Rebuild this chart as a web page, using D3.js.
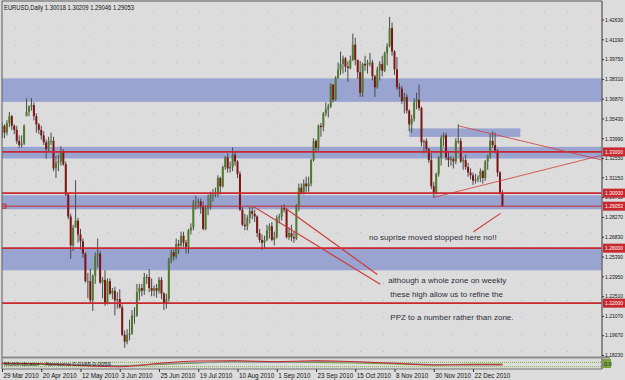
<!DOCTYPE html>
<html>
<head>
<meta charset="utf-8">
<script src="https://cdn.jsdelivr.net/npm/d3@7"></script>
<style>
  body { margin: 0; background: #dcdcdc; }
  svg text { font-family: "Liberation Sans", Arial, sans-serif; }
</style>
</head>
<body>
<svg id="chart" width="625" height="380"></svg>
<script>
// EURUSD daily bars, 29 Mar 2010 .. 7 Jan 2011
var dateTicks = ["29 Mar 2010", "20 Apr 2010", "12 May 2010", "3 Jun 2010", "25 Jun 2010",
  "19 Jul 2010", "10 Aug 2010", "1 Sep 2010", "23 Sep 2010", "15 Oct 2010",
  "8 Nov 2010", "30 Nov 2010", "22 Dec 2010"];

var opens = [
  1.3410, 1.3490, 1.3440, 1.3510, 1.3560, 1.3490, 1.3460, 1.3380, 1.3350, 1.3360,
  1.3560, 1.3590, 1.3630, 1.3640, 1.3560, 1.3500, 1.3460, 1.3420, 1.3370, 1.3320,
  1.3380, 1.3380, 1.3180, 1.3220, 1.3230, 1.3300, 1.3210, 1.2990, 1.2830, 1.2620,
  1.2750, 1.2800, 1.2700, 1.2650, 1.2560, 1.2360, 1.2360, 1.2220, 1.2400, 1.2540,
  1.2560, 1.2350, 1.2370, 1.2200, 1.2360, 1.2270, 1.2290, 1.2220, 1.2230, 1.2170,
  1.1970, 1.1920, 1.1970, 1.1980, 1.2110, 1.2110, 1.2280, 1.2310, 1.2290, 1.2390,
  1.2390, 1.2310, 1.2290, 1.2310, 1.2290, 1.2370, 1.2270, 1.2200, 1.2230, 1.2510,
  1.2570, 1.2540, 1.2630, 1.2620, 1.2690, 1.2640, 1.2610, 1.2730, 1.2750, 1.2930,
  1.2940, 1.2940, 1.2900, 1.2740, 1.2890, 1.2910, 1.2990, 1.2990, 1.2990, 1.3110,
  1.3050, 1.3190, 1.3260, 1.3180, 1.3190, 1.3280, 1.3230, 1.3140, 1.2880, 1.2770,
  1.2760, 1.2820, 1.2870, 1.2850, 1.2830, 1.2710, 1.2660, 1.2640, 1.2660, 1.2730,
  1.2760, 1.2660, 1.2680, 1.2820, 1.2830, 1.2890, 1.2880, 1.2680, 1.2710, 1.2680,
  1.2670, 1.2910, 1.3040, 1.3000, 1.3070, 1.3050, 1.3070, 1.3240, 1.3380, 1.3330,
  1.3490, 1.3480, 1.3580, 1.3610, 1.3630, 1.3790, 1.3680, 1.3840, 1.3900, 1.3940,
  1.3980, 1.3920, 1.3910, 1.3970, 1.4080, 1.3970, 1.3880, 1.3730, 1.3940, 1.3930,
  1.3950, 1.3950, 1.3850, 1.3770, 1.3900, 1.3940, 1.3890, 1.4020, 1.4070, 1.4200,
  1.4030, 1.3900, 1.3770, 1.3760, 1.3670, 1.3700, 1.3600, 1.3500, 1.3540, 1.3660,
  1.3680, 1.3620, 1.3370, 1.3380, 1.3320, 1.3240, 1.3050, 1.3000, 1.3140, 1.3260,
  1.3400, 1.3420, 1.3260, 1.3240, 1.3250, 1.3230, 1.3380, 1.3380, 1.3230, 1.3240,
  1.3190, 1.3150, 1.3130, 1.3090, 1.3100, 1.3110, 1.3160, 1.3110, 1.3230, 1.3270,
  1.3380, 1.3350, 1.3310, 1.3150, 1.30018
];
var highs = [
  1.3520, 1.3500, 1.3530, 1.3590, 1.3570, 1.3500, 1.3490, 1.3420, 1.3420, 1.3500,
  1.3690, 1.3640, 1.3691, 1.3660, 1.3580, 1.3510, 1.3490, 1.3450, 1.3390, 1.3410,
  1.3440, 1.3410, 1.3270, 1.3280, 1.3340, 1.3320, 1.3230, 1.3000, 1.2850, 1.2770,
  1.3094, 1.2820, 1.2740, 1.2670, 1.2570, 1.2420, 1.2450, 1.2410, 1.2570, 1.2670,
  1.2580, 1.2390, 1.2440, 1.2380, 1.2380, 1.2310, 1.2320, 1.2280, 1.2300, 1.2190,
  1.2000, 1.2010, 1.2080, 1.2150, 1.2170, 1.2340, 1.2340, 1.2340, 1.2420, 1.2410,
  1.2447, 1.2380, 1.2330, 1.2340, 1.2390, 1.2390, 1.2280, 1.2270, 1.2530, 1.2590,
  1.2590, 1.2670, 1.2660, 1.2720, 1.2720, 1.2660, 1.2740, 1.2780, 1.2950, 1.2980,
  1.2960, 1.2960, 1.2940, 1.2910, 1.2990, 1.3010, 1.3030, 1.3040, 1.3130, 1.3120,
  1.3200, 1.3270, 1.3290, 1.3230, 1.3333, 1.3300, 1.3240, 1.3160, 1.2900, 1.2850,
  1.2840, 1.2900, 1.2900, 1.2880, 1.2840, 1.2740, 1.2700, 1.2690, 1.2770, 1.2780,
  1.2790, 1.2720, 1.2840, 1.2850, 1.2910, 1.2920, 1.2890, 1.2750, 1.2770, 1.2720,
  1.2920, 1.3070, 1.3070, 1.3100, 1.3120, 1.3120, 1.3250, 1.3400, 1.3390, 1.3500,
  1.3510, 1.3590, 1.3660, 1.3650, 1.3800, 1.3790, 1.3850, 1.3950, 1.4030, 1.4000,
  1.3990, 1.3960, 1.4000, 1.4160, 1.4130, 1.3970, 1.3960, 1.3950, 1.4000, 1.3970,
  1.4020, 1.3970, 1.3860, 1.3920, 1.3960, 1.4000, 1.4030, 1.4090, 1.4282, 1.4240,
  1.4040, 1.3990, 1.3800, 1.3780, 1.3730, 1.3720, 1.3610, 1.3570, 1.3690, 1.3730,
  1.3790, 1.3630, 1.3390, 1.3400, 1.3330, 1.3290, 1.3080, 1.3150, 1.3270, 1.3420,
  1.3440, 1.3440, 1.3300, 1.3270, 1.3260, 1.3400, 1.3500, 1.3400, 1.3260, 1.3280,
  1.3220, 1.3180, 1.3150, 1.3140, 1.3130, 1.3180, 1.3170, 1.3240, 1.3280, 1.3430,
  1.3450, 1.3440, 1.3320, 1.3160, 1.30209
];
var lows = [
  1.3400, 1.3400, 1.3420, 1.3480, 1.3460, 1.3430, 1.3360, 1.3330, 1.3330, 1.3350,
  1.3560, 1.3560, 1.3600, 1.3530, 1.3440, 1.3430, 1.3390, 1.3350, 1.3250, 1.3300,
  1.3350, 1.3160, 1.3110, 1.3160, 1.3200, 1.3200, 1.2980, 1.2810, 1.2523, 1.2580,
  1.2750, 1.2640, 1.2590, 1.2530, 1.2350, 1.2235, 1.2200, 1.2143, 1.2340, 1.2460,
  1.2340, 1.2235, 1.2180, 1.2190, 1.2260, 1.2230, 1.2110, 1.2160, 1.2160, 1.1960,
  1.1876, 1.1900, 1.1930, 1.1970, 1.2050, 1.2100, 1.2220, 1.2250, 1.2260, 1.2340,
  1.2280, 1.2250, 1.2250, 1.2240, 1.2270, 1.2230, 1.2150, 1.2160, 1.2210, 1.2490,
  1.2510, 1.2520, 1.2560, 1.2610, 1.2610, 1.2560, 1.2560, 1.2700, 1.2730, 1.2880,
  1.2890, 1.2850, 1.2730, 1.2730, 1.2840, 1.2880, 1.2940, 1.2970, 1.2970, 1.2990,
  1.3040, 1.3170, 1.3150, 1.3150, 1.3160, 1.3200, 1.3110, 1.2870, 1.2760, 1.2730,
  1.2730, 1.2780, 1.2810, 1.2790, 1.2680, 1.2640, 1.2588, 1.2600, 1.2650, 1.2670,
  1.2650, 1.2620, 1.2670, 1.2780, 1.2800, 1.2860, 1.2670, 1.2660, 1.2650, 1.2640,
  1.2660, 1.2870, 1.2990, 1.2990, 1.3010, 1.3010, 1.3050, 1.3230, 1.3300, 1.3310,
  1.3410, 1.3450, 1.3560, 1.3550, 1.3620, 1.3660, 1.3670, 1.3830, 1.3860, 1.3870,
  1.3880, 1.3810, 1.3900, 1.3960, 1.3930, 1.3830, 1.3700, 1.3700, 1.3890, 1.3870,
  1.3920, 1.3820, 1.3700, 1.3760, 1.3820, 1.3850, 1.3880, 1.3930, 1.4060, 1.4000,
  1.3860, 1.3750, 1.3700, 1.3650, 1.3580, 1.3580, 1.3450, 1.3440, 1.3520, 1.3610,
  1.3600, 1.3340, 1.3290, 1.3300, 1.3220, 1.3030, 1.2969, 1.2990, 1.3120, 1.3200,
  1.3340, 1.3240, 1.3190, 1.3200, 1.3180, 1.3210, 1.3360, 1.3220, 1.3170, 1.3170,
  1.3120, 1.3100, 1.3060, 1.3070, 1.3080, 1.3080, 1.3070, 1.3090, 1.3170, 1.3250,
  1.3330, 1.3290, 1.3120, 1.2990, 1.29046
];
var closes = [
  1.3490, 1.3440, 1.3510, 1.3560, 1.3490, 1.3460, 1.3380, 1.3350, 1.3360, 1.3490,
  1.3590, 1.3630, 1.3640, 1.3560, 1.3500, 1.3460, 1.3420, 1.3370, 1.3320, 1.3380,
  1.3380, 1.3180, 1.3220, 1.3230, 1.3300, 1.3210, 1.2990, 1.2830, 1.2620, 1.2750,
  1.2800, 1.2700, 1.2650, 1.2560, 1.2360, 1.2360, 1.2220, 1.2400, 1.2540, 1.2560,
  1.2350, 1.2370, 1.2200, 1.2360, 1.2270, 1.2290, 1.2220, 1.2230, 1.2170, 1.1970,
  1.1920, 1.1970, 1.1980, 1.2110, 1.2110, 1.2280, 1.2310, 1.2290, 1.2390, 1.2390,
  1.2310, 1.2290, 1.2310, 1.2290, 1.2370, 1.2270, 1.2200, 1.2230, 1.2510, 1.2570,
  1.2540, 1.2630, 1.2620, 1.2690, 1.2640, 1.2610, 1.2730, 1.2750, 1.2930, 1.2940,
  1.2940, 1.2900, 1.2740, 1.2890, 1.2910, 1.2990, 1.2990, 1.2990, 1.3110, 1.3050,
  1.3190, 1.3260, 1.3180, 1.3190, 1.3280, 1.3230, 1.3140, 1.2880, 1.2770, 1.2760,
  1.2820, 1.2870, 1.2850, 1.2830, 1.2710, 1.2660, 1.2640, 1.2660, 1.2730, 1.2760,
  1.2660, 1.2680, 1.2820, 1.2830, 1.2890, 1.2880, 1.2680, 1.2710, 1.2680, 1.2670,
  1.2910, 1.3040, 1.3000, 1.3070, 1.3050, 1.3070, 1.3240, 1.3380, 1.3330, 1.3490,
  1.3480, 1.3580, 1.3610, 1.3630, 1.3790, 1.3680, 1.3840, 1.3900, 1.3940, 1.3980,
  1.3920, 1.3910, 1.3970, 1.4080, 1.3970, 1.3880, 1.3730, 1.3940, 1.3930, 1.3950,
  1.3950, 1.3850, 1.3770, 1.3900, 1.3940, 1.3890, 1.4020, 1.4070, 1.4200, 1.4030,
  1.3900, 1.3770, 1.3760, 1.3670, 1.3700, 1.3600, 1.3500, 1.3540, 1.3660, 1.3680,
  1.3620, 1.3370, 1.3380, 1.3320, 1.3240, 1.3050, 1.3000, 1.3140, 1.3260, 1.3400,
  1.3420, 1.3260, 1.3240, 1.3250, 1.3230, 1.3380, 1.3380, 1.3230, 1.3240, 1.3190,
  1.3150, 1.3130, 1.3090, 1.3100, 1.3110, 1.3160, 1.3110, 1.3230, 1.3270, 1.3380,
  1.3350, 1.3310, 1.3150, 1.3002, 1.29053
];

var priceTicks = [1.42630, 1.41190, 1.39750, 1.38310, 1.36870, 1.35430, 1.33990, 1.32550,
  1.31150, 1.29710, 1.28270, 1.26830, 1.25390, 1.23950, 1.22510, 1.21070, 1.19670, 1.18230];

// hand-drawn objects on the chart
var levelLines = [1.33000, 1.30000, 1.29053, 1.26000, 1.22000];
var levelLabels = ["1.33000", "1.30000", "1.29053", "1.26000", "1.22000"];
var zoneTop    = [1.3835, 1.3337, 1.2985, 1.2594];
var zoneBottom = [1.3664, 1.3252, 1.2883, 1.2439];
var boxZone = [166, 211.3, 1.3471, 1.3409]; // from bar, to bar, top, bottom
var trendLines = [
  [186, 1.3490, 244.7, 1.3240],
  [176, 1.2969, 244.7, 1.3276],
  [102.3, 1.2905, 154.2, 1.2337],
  [115.0, 1.2897, 153.0, 1.2409],
  [192.2, 1.2720, 203.2, 1.2853]
];
var notes = [
  [149.6, 1.2657, "no suprise moved stopped here no!!"],
  [157.5, 1.2345, "although a whole zone on weekly"],
  [158.3, 1.2243, "these high allow us to refine the"],
  [158.3, 1.2076, "PPZ to a number rather than zone."]
];

// sub window indicator, sampled every 16 bars
var indBars  = [0, 16, 32, 48, 64, 80, 96, 112, 128, 144, 160, 176, 192, 204];
var indRed   = [5.7, 5.3, 3.3, 2.2, 5.7, 8.0, 8.3, 7.3, 8.3, 7.3, 5.7, 4.0, 4.3, 4.3];
var indGray  = [6.0, 5.5, 4.5, 3.0, 5.0, 6.5, 7.0, 6.5, 7.5, 7.0, 6.0, 4.5, 4.0, 4.0];
var indGreen = [5.0, 4.5, 4.0, 3.5, 4.5, 6.0, 7.5, 7.0, 6.5, 6.0, 5.0, 4.0, 5.0, 5.0];
var indLevels = [6.7, 2.3];

var svg = d3.select("#chart");
var pLeft = 2, pRight = 602, pTop = 1, pBottom = 357;

var x = d3.scaleLinear().domain([0, 192]).range([2, 473]);
var y = d3.scaleLinear().domain([1.4263, 1.1823]).range([19.5, 355]);
var ySub = d3.scaleLinear().domain([0, 10]).range([369, 359]);

var defs = svg.append("defs");
// faint speckle of the screenshot background
var speck = defs.append("pattern").attr("id", "speck")
  .attr("width", 23).attr("height", 17).attr("patternUnits", "userSpaceOnUse");
speck.append("rect").attr("width", 23).attr("height", 17).attr("fill", "#dcdcdc");
speck.append("rect").attr("x", 3).attr("y", 4).attr("width", 1).attr("height", 1).attr("fill", "#e6d49a");
speck.append("rect").attr("x", 15).attr("y", 11).attr("width", 1).attr("height", 1).attr("fill", "#a9c2d6");
speck.append("rect").attr("x", 19).attr("y", 2).attr("width", 1).attr("height", 1).attr("fill", "#e2c9a6");

svg.append("rect").attr("width", 625).attr("height", 380).attr("fill", "#dcdcdc");
svg.append("rect").attr("x", pLeft).attr("y", pTop).attr("width", pRight - pLeft)
  .attr("height", pBottom - pTop).attr("fill", "url(#speck)");

defs.append("clipPath").attr("id", "plotclip")
  .append("rect").attr("x", pLeft).attr("y", pTop)
  .attr("width", pRight - pLeft).attr("height", pBottom - pTop);

var plot = svg.append("g").attr("clip-path", "url(#plotclip)");

// blue zones
plot.selectAll("rect.zone")
  .data(zoneTop)
  .enter().append("rect")
  .attr("class", "zone")
  .attr("x", pLeft)
  .attr("width", pRight - pLeft)
  .attr("y", function(d) { return y(d); })
  .attr("height", function(d, i) { return y(zoneBottom[i]) - y(d); })
  .attr("fill", "#99a4d0");

plot.append("rect")
  .attr("x", x(boxZone[0]))
  .attr("width", x(boxZone[1]) - x(boxZone[0]))
  .attr("y", y(boxZone[2]))
  .attr("height", y(boxZone[3]) - y(boxZone[2]))
  .attr("fill", "#99a4d0");

// candles
var bars = d3.range(closes.length);
plot.selectAll("line.wick")
  .data(bars)
  .enter().append("line")
  .attr("class", "wick")
  .attr("x1", function(i) { return x(i); })
  .attr("x2", function(i) { return x(i); })
  .attr("y1", function(i) { return y(highs[i]); })
  .attr("y2", function(i) { return y(lows[i]); })
  .attr("stroke", "#4a4a4a")
  .attr("stroke-width", 1);

plot.selectAll("rect.body")
  .data(bars)
  .enter().append("rect")
  .attr("class", "body")
  .attr("x", function(i) { return x(i) - 1; })
  .attr("width", 2)
  .attr("y", function(i) { return y(Math.max(opens[i], closes[i])); })
  .attr("height", function(i) { return Math.max(1, Math.abs(y(opens[i]) - y(closes[i]))); })
  .attr("fill", function(i) { return closes[i] >= opens[i] ? "#4d7a2c" : "#7e1414"; });

// horizontal levels
plot.selectAll("line.level")
  .data(levelLines)
  .enter().append("line")
  .attr("class", "level")
  .attr("x1", pLeft).attr("x2", pRight)
  .attr("y1", function(d) { return y(d); })
  .attr("y2", function(d) { return y(d); })
  .attr("stroke", "#c8282e")
  .attr("stroke-width", function(d, i) { return i == 2 ? 1 : 1.6; });

// trend lines
plot.selectAll("line.trend")
  .data(trendLines)
  .enter().append("line")
  .attr("class", "trend")
  .attr("x1", function(d) { return x(d[0]); })
  .attr("y1", function(d) { return y(d[1]); })
  .attr("x2", function(d) { return x(d[2]); })
  .attr("y2", function(d) { return y(d[3]); })
  .attr("stroke", "#d03a3a")
  .attr("stroke-width", function(d, i) { return i < 2 ? 0.8 : 1.2; });

// small square on the bid line
plot.append("rect").attr("x", 2).attr("y", y(levelLines[2]) - 2)
  .attr("width", 4).attr("height", 4).attr("fill", "none").attr("stroke", "#c8282e");

// annotations
svg.selectAll("text.note")
  .data(notes)
  .enter().append("text")
  .attr("class", "note")
  .attr("x", function(d) { return x(d[0]); })
  .attr("y", function(d) { return y(d[1]); })
  .attr("font-size", 8)
  .attr("fill", "#2e2e3a")
  .text(function(d) { return d[2]; });

// title
svg.append("text")
  .attr("x", 4).attr("y", 10)
  .attr("font-size", 6.6)
  .attr("fill", "#111")
  .attr("textLength", 130)
  .attr("lengthAdjust", "spacingAndGlyphs")
  .text("EURUSD,Daily  1.30018 1.30209 1.29046 1.29053");

// sub window
svg.selectAll("line.sublevel")
  .data(indLevels)
  .enter().append("line")
  .attr("x1", pLeft).attr("x2", pRight)
  .attr("y1", function(d) { return ySub(d); })
  .attr("y2", function(d) { return ySub(d); })
  .attr("stroke", "#7fae3a")
  .attr("stroke-dasharray", "1,1");

var subLine = d3.line()
  .x(function(d, k) { return x(indBars[k]); })
  .y(function(d) { return ySub(d); })
  .curve(d3.curveMonotoneX);

[[indGreen, "#6e9e2e"], [indGray, "#8a8fa8"], [indRed, "#c8282e"]].forEach(function(s) {
  svg.append("path")
    .attr("d", subLine(s[0]))
    .attr("fill", "none")
    .attr("stroke", s[1])
    .attr("stroke-width", 1);
});

svg.append("text")
  .attr("x", 4).attr("y", 366)
  .attr("font-size", 6)
  .attr("fill", "#222")
  .text("MultiIndicator - Awesome 0.0165 0.0059");

svg.append("rect").attr("x", 603).attr("y", 359).attr("width", 8).attr("height", 9).attr("fill", "#7aa53a");
svg.append("text").attr("x", 604).attr("y", 366).attr("font-size", 5.6).attr("fill", "#222").text("0.0");

// frame
svg.append("line").attr("x1", pLeft).attr("x2", pLeft).attr("y1", pTop).attr("y2", 369).attr("stroke", "#5a5a5a");
svg.append("line").attr("x1", pLeft).attr("x2", pRight).attr("y1", pTop).attr("y2", pTop).attr("stroke", "#5a5a5a");
svg.append("line").attr("x1", pRight).attr("x2", pRight).attr("y1", pTop).attr("y2", 369)
  .attr("stroke", "#6e6e6e").attr("stroke-width", 1.5);
svg.append("rect").attr("x", pLeft).attr("y", 356.5).attr("width", pRight - pLeft + 8).attr("height", 2).attr("fill", "#8a8a8a");
svg.append("line").attr("x1", pLeft).attr("x2", pRight).attr("y1", 369).attr("y2", 369).attr("stroke", "#6e6e6e");

// price axis
var yAxis = svg.append("g")
  .attr("transform", "translate(" + pRight + ",0)")
  .call(d3.axisRight(y).tickValues(priceTicks).tickSize(2).tickPadding(1)
    .tickFormat(d3.format(".5f")));
yAxis.select(".domain").remove();
yAxis.selectAll("text").attr("font-size", 5.6).attr("fill", "#111")
  .attr("textLength", 18).attr("lengthAdjust", "spacingAndGlyphs");
yAxis.selectAll("line").attr("stroke", "#333");

// red price labels for the level lines
var lab = svg.selectAll("g.lvl")
  .data(levelLines)
  .enter().append("g")
  .attr("transform", function(d) { return "translate(" + pRight + "," + y(d) + ")"; });
lab.append("rect").attr("x", 1).attr("y", -4.5).attr("width", 22).attr("height", 9).attr("fill", "#c8282e");
lab.append("text").attr("x", 3).attr("y", 2).attr("font-size", 5.6).attr("fill", "#fff")
  .attr("textLength", 18).attr("lengthAdjust", "spacingAndGlyphs")
  .text(function(d, i) { return levelLabels[i]; });

// date axis
var xAxis = svg.append("g")
  .attr("transform", "translate(0,369)")
  .call(d3.axisBottom(x).tickValues(dateTicks.map(function(d, k) { return k * 16; }))
    .tickSize(3).tickPadding(2)
    .tickFormat(function(d) { return dateTicks[d / 16]; }));
xAxis.select(".domain").remove();
xAxis.selectAll("line").attr("stroke", "#333");
xAxis.selectAll("text").attr("text-anchor", "start").attr("dx", 1).attr("font-size", 6.3)
  .attr("fill", "#111");
</script>
</body>
</html>
